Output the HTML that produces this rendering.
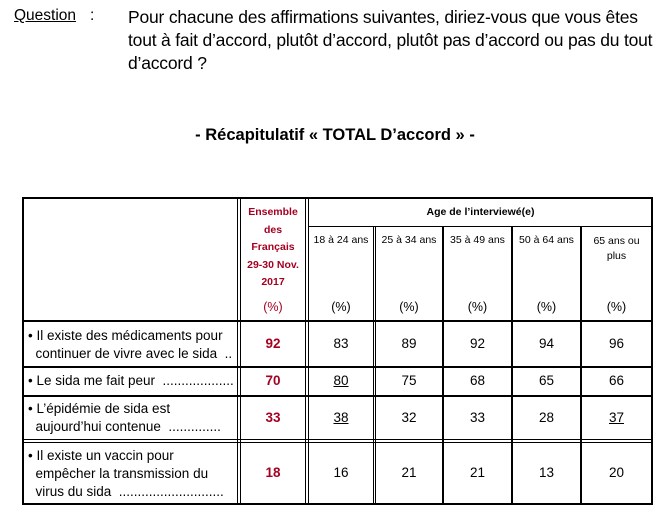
<!DOCTYPE html>
<html><head><meta charset="utf-8"><style>
body{margin:0;width:664px;height:517px;background:#fff;position:relative;font-family:"Liberation Sans",sans-serif;color:#000;overflow:hidden}
.a{position:absolute;white-space:nowrap}
.h{position:absolute;background:#000}
.c{position:absolute;text-align:center}
.r{color:#a50021;font-weight:bold}
.s{font-size:10.5px}
.n{font-size:13.5px}
</style></head><body>
<div class="a" style="left:14px;top:7px;font-size:15.5px;text-decoration:underline">Question</div>
<div class="a" style="left:90px;top:7px;font-size:15.5px">:</div>
<div class="a" style="left:128px;top:6px;font-size:17.5px;line-height:23px;letter-spacing:-0.2px">Pour chacune des affirmations suivantes, diriez-vous que vous êtes<br>tout à fait d’accord, plutôt d’accord, plutôt pas d’accord ou pas du tout<br>d’accord ?</div>
<div class="c" style="left:0;width:670px;top:126px;font-size:16.5px;font-weight:bold">- Récapitulatif « TOTAL D’accord » -</div>

<div class="h" style="left:22px;top:197px;width:631px;height:2px"></div>
<div class="h" style="left:22px;top:503px;width:631px;height:2px"></div>
<div class="h" style="left:22px;top:197px;width:2px;height:308px"></div>
<div class="h" style="left:651px;top:197px;width:2px;height:308px"></div>
<div class="h" style="left:237px;top:197px;width:1px;height:308px"></div>
<div class="h" style="left:240px;top:197px;width:1px;height:308px"></div>
<div class="h" style="left:305px;top:197px;width:1px;height:308px"></div>
<div class="h" style="left:308px;top:197px;width:1px;height:308px"></div>
<div class="h" style="left:373px;top:227px;width:1px;height:278px"></div>
<div class="h" style="left:375px;top:227px;width:1px;height:278px"></div>
<div class="h" style="left:442px;top:227px;width:2px;height:278px"></div>
<div class="h" style="left:511px;top:227px;width:2px;height:278px"></div>
<div class="h" style="left:580px;top:227px;width:2px;height:278px"></div>
<div class="h" style="left:308px;top:226px;width:344px;height:1px"></div>
<div class="h" style="left:22px;top:320px;width:631px;height:2px"></div>
<div class="h" style="left:22px;top:366px;width:631px;height:2px"></div>
<div class="h" style="left:22px;top:395px;width:631px;height:2px"></div>
<div class="h" style="left:22px;top:439px;width:631px;height:1px"></div>
<div class="h" style="left:22px;top:442px;width:631px;height:1px"></div>

<div class="c r s" style="left:241px;width:64px;top:204px;line-height:17.5px">Ensemble<br>des<br>Français<br>29-30 Nov.<br>2017</div>
<div class="c r" style="left:241px;width:64px;top:300px;font-size:12.5px;font-weight:normal">(%)</div>
<div class="c s" style="left:309px;width:343px;top:206px;font-weight:bold">Age de l’interviewé(e)</div>
<div class="c s" style="left:309px;width:64px;top:234px">18 à 24 ans</div>
<div class="c s" style="left:376px;width:66px;top:234px">25 à 34 ans</div>
<div class="c s" style="left:444px;width:67px;top:234px">35 à 49 ans</div>
<div class="c s" style="left:513px;width:67px;top:234px">50 à 64 ans</div>
<div class="c s" style="left:582px;width:69px;top:234px;line-height:15px">65 ans ou<br>plus</div>
<div class="c" style="left:309px;width:64px;top:300px;font-size:12.5px">(%)</div>
<div class="c" style="left:376px;width:66px;top:300px;font-size:12.5px">(%)</div>
<div class="c" style="left:444px;width:67px;top:300px;font-size:12.5px">(%)</div>
<div class="c" style="left:513px;width:67px;top:300px;font-size:12.5px">(%)</div>
<div class="c" style="left:582px;width:69px;top:300px;font-size:12.5px">(%)</div>

<div class="a n" style="left:28px;top:327px;line-height:18px">• Il existe des médicaments pour<br>&nbsp;&nbsp;continuer de vivre avec le sida&nbsp; ..</div>
<div class="a n" style="left:28px;top:373px">• Le sida me fait peur&nbsp; ...................</div>
<div class="a n" style="left:28px;top:400px;line-height:18px">• L’épidémie de sida est<br>&nbsp;&nbsp;aujourd’hui contenue&nbsp; ..............</div>
<div class="a n" style="left:28px;top:447px;line-height:18px">• Il existe un vaccin pour<br>&nbsp;&nbsp;empêcher la transmission du<br>&nbsp;&nbsp;virus du sida&nbsp; ............................</div>

<div class="c n r" style="left:241px;width:64px;top:336px">92</div>
<div class="c n r" style="left:241px;width:64px;top:373px">70</div>
<div class="c n r" style="left:241px;width:64px;top:410px">33</div>
<div class="c n r" style="left:241px;width:64px;top:465px">18</div>

<div class="c n" style="left:309px;width:64px;top:336px">83</div>
<div class="c n" style="left:376px;width:66px;top:336px">89</div>
<div class="c n" style="left:444px;width:67px;top:336px">92</div>
<div class="c n" style="left:513px;width:67px;top:336px">94</div>
<div class="c n" style="left:582px;width:69px;top:336px">96</div>

<div class="c n" style="left:309px;width:64px;top:373px"><u>80</u></div>
<div class="c n" style="left:376px;width:66px;top:373px">75</div>
<div class="c n" style="left:444px;width:67px;top:373px">68</div>
<div class="c n" style="left:513px;width:67px;top:373px">65</div>
<div class="c n" style="left:582px;width:69px;top:373px">66</div>

<div class="c n" style="left:309px;width:64px;top:410px"><u>38</u></div>
<div class="c n" style="left:376px;width:66px;top:410px">32</div>
<div class="c n" style="left:444px;width:67px;top:410px">33</div>
<div class="c n" style="left:513px;width:67px;top:410px">28</div>
<div class="c n" style="left:582px;width:69px;top:410px"><u>37</u></div>

<div class="c n" style="left:309px;width:64px;top:465px">16</div>
<div class="c n" style="left:376px;width:66px;top:465px">21</div>
<div class="c n" style="left:444px;width:67px;top:465px">21</div>
<div class="c n" style="left:513px;width:67px;top:465px">13</div>
<div class="c n" style="left:582px;width:69px;top:465px">20</div>
</body></html>
